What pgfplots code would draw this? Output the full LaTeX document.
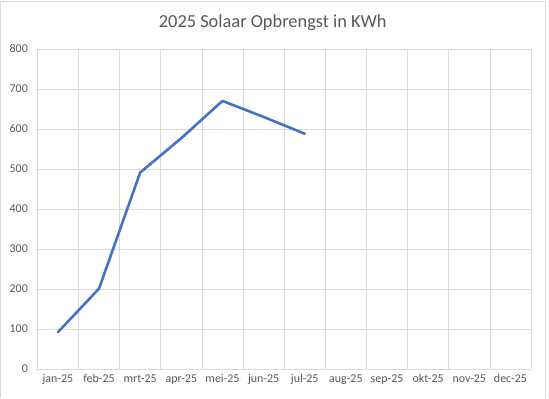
\documentclass[border=0pt]{standalone}
\usepackage{pgfplots}
\pgfplotsset{compat=1.18}
\usepackage{fontspec}
\setmainfont{Carlito}
\definecolor{txt}{HTML}{595959}
\definecolor{grid}{HTML}{D9D9D9}
\definecolor{line}{HTML}{4472C4}
\begin{document}
\begin{tikzpicture}[x=1bp,y=1bp]
\path[fill=white] (0,0) rectangle (549,399);
\draw[color=grid,line width=0.8bp] (-1,0) -- (-1,398) -- (545.5,398) -- (545.5,0);
\node[font=\fontsize{18.5}{20}\selectfont,text=txt] at (272,376) {2025 Solaar Opbrengst in KWh};
\begin{axis}[
  at={(36bp,29bp)}, anchor=south west,
  scale only axis, width=495bp, height=321bp,
  xmin=-0.5, xmax=11.5, ymin=0, ymax=800,
  xtick={0,...,11},
  xticklabels={jan-25,feb-25,mrt-25,apr-25,mei-25,jun-25,jul-25,aug-25,sep-25,okt-25,nov-25,dec-25},
  minor xtick={-0.5,0.5,...,11.5},
  xmajorgrids=false, xminorgrids=true, ymajorgrids=true,
  ytick={0,100,...,800},
  grid style={color=grid,line width=0.7bp},
  minor grid style={color=grid,line width=0.7bp},
  axis line style={draw=none},
  axis x line*=bottom, axis y line*=left,
  x axis line style={draw=grid,line width=0.7bp},
  tick style={draw=none},
  major tick length=0pt, minor tick length=0pt,
  ticklabel style={font=\fontsize{12}{13}\selectfont,text=txt},
  /pgf/number format/assume math mode=true,
  xticklabel style={yshift=-2bp},
  yticklabel style={xshift=-6bp},
  clip=false,
]
\addplot[color=line,line width=2.6bp,line join=round,line cap=round] coordinates {
(0,92) (1,201) (2,491) (3,577) (4,670) (5,630) (6,588)
};
\end{axis}
\end{tikzpicture}
\end{document}
